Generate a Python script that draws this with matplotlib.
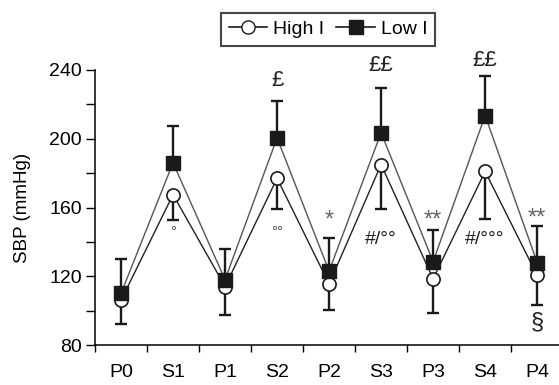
import numpy as np
import matplotlib
matplotlib.use("Agg")
import matplotlib.pyplot as plt

plt.rcParams['font.family'] = ['Liberation Sans', 'DejaVu Sans']

phases = ['P0', 'S1', 'P1', 'S2', 'P2', 'S3', 'P3', 'S4', 'P4']

# SBP means and SD
high_mean = [106, 167.5, 114, 177, 115.5, 185, 118.5, 181, 120.5]
high_sd = [13.5, 15, 16.5, 18, 15, 26, 20, 27.5, 17.5]
low_mean = [110, 186, 118, 200.5, 123, 203.5, 128.5, 213.5, 128]
low_sd = [20, 21.5, 18, 21.5, 19, 26, 18.5, 23, 21.5]

# significance marks: (index, y, text, colour, size)
marks = [
    (3, 234, '£', '#222222', 16),
    (5, 242.5, '££', '#222222', 16),
    (7, 245.5, '££', '#222222', 16),
    (1, 146, '°', '#555555', 11),
    (3, 146, '°°', '#555555', 11),
    (5, 141.5, '#/°°', '#222222', 14),
    (7, 141.5, '#/°°°', '#222222', 14),
    (4, 152.5, '*', '#666666', 17),
    (6, 152.5, '**', '#666666', 17),
    (8, 153.5, '**', '#666666', 17),
    (8, 93, '§', '#222222', 17),
]

x = np.arange(len(phases))

fig = plt.figure(figsize=(5.59, 3.85), dpi=100)
ax = fig.add_axes([95 / 559, 40 / 385, 464 / 559, 275 / 385])

ax.plot(x, low_mean, '-', color='#555555', lw=1.0, zorder=2)
ax.plot(x, high_mean, '-', color='#222222', lw=1.0, zorder=2)

ax.errorbar(x, high_mean, yerr=[high_sd, np.zeros(len(x))], fmt='none',
            ecolor='#1a1a1a', elinewidth=1.7, capsize=4.3, capthick=1.7, zorder=3)
ax.errorbar(x, low_mean, yerr=[np.zeros(len(x)), low_sd], fmt='none',
            ecolor='#1a1a1a', elinewidth=1.7, capsize=4.3, capthick=1.7, zorder=3)

ax.plot(x, high_mean, 'o', ms=9.5, mfc='white', mec='#1a1a1a', mew=1.2, zorder=4)
ax.plot(x, low_mean, 's', ms=10, mfc='#1a1a1a', mec='#1a1a1a', mew=1.0, zorder=5)

for i, yv, txt, col, fs in marks:
    ax.text(x[i], yv, txt, ha='center', va='center', color=col, fontsize=fs)

ax.set_xlim(-0.5, 8.42)
ax.set_ylim(80, 240)
ax.set_xticks(np.arange(-0.5, 8.5, 1.0))
ax.set_xticklabels([])
ax.set_xticks(x, minor=True)
ax.set_xticklabels(phases, minor=True, fontsize=14)
ax.tick_params(axis='x', which='major', length=5, width=1)
ax.tick_params(axis='x', which='minor', length=0, pad=14)
ax.set_yticks([80, 120, 160, 200, 240])
ax.set_yticks([100, 140, 180, 220], minor=True)
ax.tick_params(axis='y', which='both', length=6.5, width=1, labelsize=14, pad=3)
ax.set_ylabel('SBP (mmHg)', fontsize=13.5, labelpad=13)

for s in ['top', 'right']:
    ax.spines[s].set_visible(False)
for s in ['left', 'bottom']:
    ax.spines[s].set_linewidth(1.1)

h1, = ax.plot([], [], '-o', color='#1a1a1a', mfc='white', ms=9.5, lw=1.2)
h2, = ax.plot([], [], '-s', color='#1a1a1a', ms=10, lw=1.2)
leg = fig.legend([h1, h2], ['High I', 'Low I'], loc='center',
                 bbox_to_anchor=(328 / 559, 1 - 29.5 / 385), ncol=2,
                 frameon=True, fancybox=False, fontsize=14,
                 handlelength=2.0, handletextpad=0.3, columnspacing=0.6,
                 borderpad=0.4, borderaxespad=0)
leg.get_frame().set_edgecolor('#1a1a1a')
leg.get_frame().set_linewidth(1.5)

fig.savefig('out.png', dpi=100)
